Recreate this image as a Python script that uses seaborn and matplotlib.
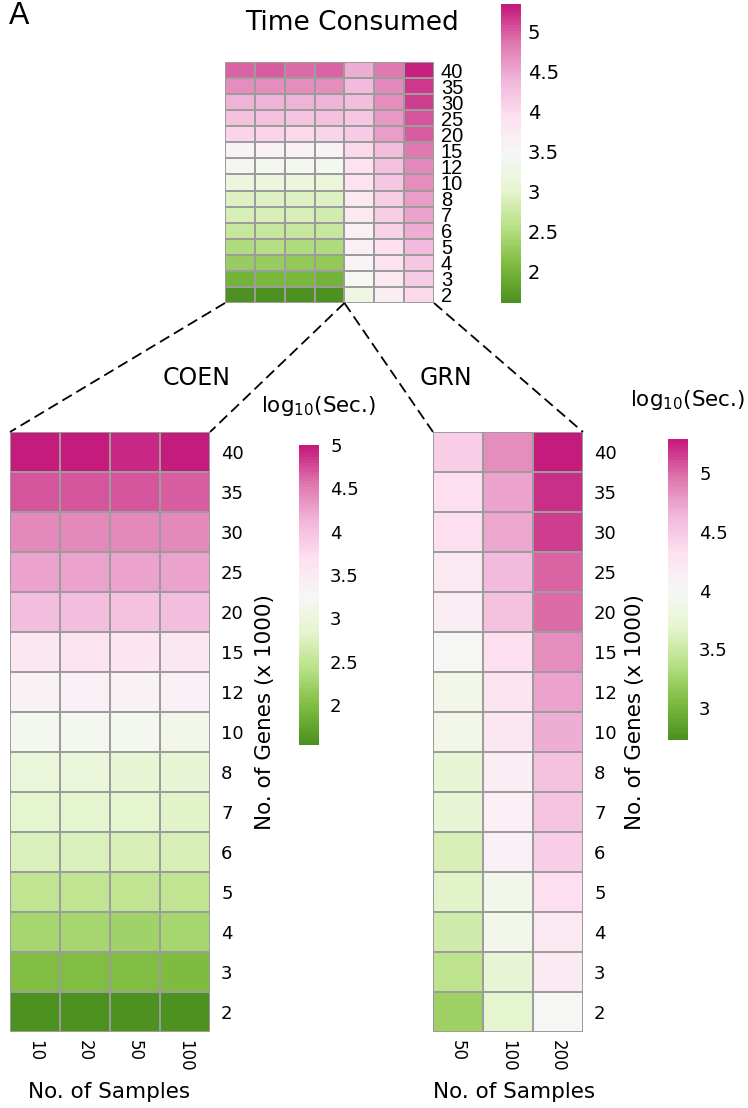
import numpy as np
import pandas as pd
import matplotlib
matplotlib.use("Agg")
import matplotlib.pyplot as plt
from matplotlib.colors import LinearSegmentedColormap, ListedColormap
from matplotlib.lines import Line2D
from matplotlib.ticker import FuncFormatter
import seaborn as sns

# no. of genes (x 1000), ascending
genes = [2, 3, 4, 5, 6, 7, 8, 10, 12, 15, 20, 25, 30, 35, 40]
coen_samples = [10, 20, 50, 100]
grn_samples = [50, 100, 200]

# log10(seconds), one value per gene count
coen_10 = [1.55, 2.00, 2.28, 2.48, 2.72, 2.84, 2.93, 3.17, 3.37, 3.58, 4.05, 4.27, 4.43, 4.70, 4.97]
coen_20 = [1.56, 2.02, 2.30, 2.50, 2.72, 2.84, 2.93, 3.17, 3.38, 3.62, 4.05, 4.27, 4.43, 4.70, 4.98]
coen_50 = [1.55, 2.02, 2.24, 2.48, 2.70, 2.84, 2.92, 3.17, 3.37, 3.60, 4.03, 4.25, 4.43, 4.70, 4.93]
coen_100 = [1.56, 1.98, 2.27, 2.48, 2.70, 2.82, 2.92, 3.12, 3.38, 3.57, 4.04, 4.27, 4.43, 4.68, 4.97]

grn_50 = [3.24, 3.40, 3.53, 3.66, 3.60, 3.74, 3.75, 3.89, 3.90, 4.01, 4.16, 4.19, 4.32, 4.34, 4.47]
grn_100 = [3.68, 3.75, 3.91, 3.93, 4.09, 4.13, 4.14, 4.22, 4.27, 4.33, 4.57, 4.60, 4.71, 4.73, 4.85]
grn_200 = [4.01, 4.18, 4.19, 4.34, 4.47, 4.54, 4.57, 4.68, 4.73, 4.85, 5.00, 5.03, 5.16, 5.19, 5.29]

coen = pd.DataFrame(dict(zip(coen_samples, [coen_10, coen_20, coen_50, coen_100])), index=genes)
grn = pd.DataFrame(dict(zip(grn_samples, [grn_50, grn_100, grn_200])), index=genes)
coen = coen.iloc[::-1]
grn = grn.iloc[::-1]
both = pd.concat([coen.add_prefix("COEN "), grn.add_prefix("GRN ")], axis=1)

# brewer PiYG (9 class), green -> magenta, cut into 100 steps like pheatmap
piyg = ["#4D9221", "#7FBC41", "#B8E186", "#E6F5D0", "#F7F7F7",
        "#FDE0EF", "#F1B6DA", "#DE77AE", "#C51B7D"]
cmap = ListedColormap(LinearSegmentedColormap.from_list("piyg", piyg)(np.linspace(0, 1, 100)))

plt.rcParams["font.family"] = ["DejaVu Sans"]
W, H = 748, 1108
fig = plt.figure(figsize=(W / 100, H / 100), dpi=100)


def box(x0, y0, x1, y1):
    return [x0 / W, 1 - y1 / H, (x1 - x0) / W, (y1 - y0) / H]


def fx(x):
    return x / W


def fy(y):
    return 1 - y / H


grid = dict(linewidths=1.1, linecolor="#9c9c9c", cmap=cmap)
plain = FuncFormatter(lambda v, p: f"{v:g}")

# ---- top overview ----
ax_top = fig.add_axes(box(225, 62, 434, 303))
cax_top = fig.add_axes(box(501, 4, 521, 303))
sns.heatmap(both, ax=ax_top, cbar_ax=cax_top, vmin=1.6, vmax=5.35,
            cbar_kws={"ticks": [2, 2.5, 3, 3.5, 4, 4.5, 5]}, **grid)
ax_top.set_xticks([])
ax_top.yaxis.tick_right()
ax_top.set_yticklabels(coen.index, rotation=0, fontsize=14.5, family="Liberation Sans")
ax_top.tick_params(axis="y", length=0, pad=5)
ax_top.set_xlabel("")
ax_top.set_ylabel("")
fig.text(fx(352), fy(23), "Time Consumed", fontsize=19, ha="center", va="center")
cb = ax_top.collections[0].colorbar
cb.outline.set_visible(False)
cb.ax.yaxis.set_major_formatter(plain)
cb.ax.tick_params(length=0, labelsize=14, pad=5)

fig.text(fx(9), fy(16), "A", fontsize=22, family="Liberation Sans", va="center")


def panel(df, rect, crect, vmin, vmax, ticks, title, title_x, lab_x, xlab_x):
    ax = fig.add_axes(box(*rect))
    cax = fig.add_axes(box(*crect))
    sns.heatmap(df, ax=ax, cbar_ax=cax, vmin=vmin, vmax=vmax,
                cbar_kws={"ticks": ticks}, **grid)
    ax.yaxis.tick_right()
    ax.set_yticklabels(df.index, rotation=0, fontsize=13)
    ax.set_xticklabels(df.columns, rotation=-90, fontsize=12, va="top")
    ax.tick_params(length=0, pad=8)
    ax.tick_params(axis="x", pad=6)
    ax.set_xlabel("")
    ax.set_ylabel("")
    fig.text(fx(xlab_x), fy(1092), "No. of Samples", fontsize=15.5,
             ha="center", va="center")
    fig.text(fx(lab_x), fy(712), "No. of Genes (x 1000)", rotation=90,
             fontsize=15.5, ha="center", va="center")
    c = ax.collections[0].colorbar
    c.outline.set_visible(False)
    c.ax.yaxis.set_major_formatter(plain)
    c.ax.tick_params(length=0, labelsize=13, pad=8)
    fig.text(fx(crect[0] + 20), fy(crect[1] - 39), "log$_{10}$(Sec.)",
             fontsize=15.5, ha="center", va="center")
    fig.text(fx(title_x), fy(378), title, fontsize=17, ha="center", va="center")
    return ax


ax_coen = panel(coen, (10, 432, 210, 1032), (299, 445, 319, 745), 1.54, 5.0,
                [2, 2.5, 3, 3.5, 4, 4.5, 5], "COEN", 197, 265, 109)
ax_grn = panel(grn, (433, 432, 583, 1032), (668, 439, 688, 740), 2.73, 5.29,
               [3, 3.5, 4, 4.5, 5], "GRN", 446, 635, 514)


# dashed connectors from the overview to the two panels
def fpt(ax, x, y):
    return fig.transFigure.inverted().transform(ax.transData.transform((x, y)))


n = len(genes)
links = [
    (fpt(ax_top, 0, n), fpt(ax_coen, 0, 0)),
    (fpt(ax_top, len(coen_samples), n), fpt(ax_coen, len(coen_samples), 0)),
    (fpt(ax_top, len(coen_samples), n), fpt(ax_grn, 0, 0)),
    (fpt(ax_top, both.shape[1], n), fpt(ax_grn, len(grn_samples), 0)),
]
for a, b in links:
    fig.add_artist(Line2D([a[0], b[0]], [a[1], b[1]], transform=fig.transFigure,
                          color="black", lw=1.3, dashes=(6, 3)))

fig.savefig("out.png", dpi=100)
